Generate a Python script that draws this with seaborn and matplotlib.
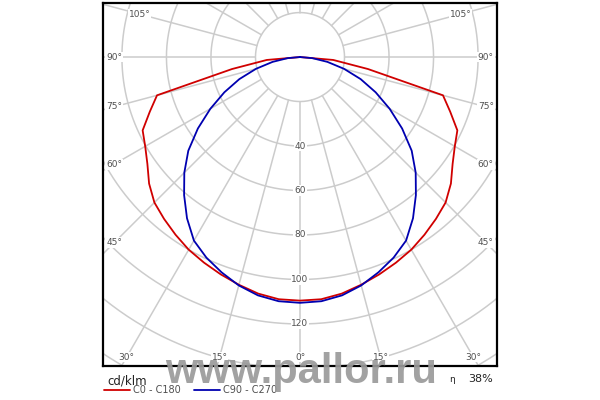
import numpy as np
import pandas as pd
import matplotlib
matplotlib.use("Agg")
import matplotlib.pyplot as plt
import seaborn as sns

# luminous intensity (cd/klm), every 5 deg from nadir
GAMMA = [0, 5, 10, 15, 20, 25, 30, 35, 40, 45, 50, 55, 60, 65, 70, 75, 80, 85, 90]
C0_C180 = [109.5, 109.3, 108.0, 106.0, 104.0, 102.0, 100.0, 97.5, 95.0, 92.5,
           88.5, 83.7, 80.3, 78.0, 71.8, 66.5, 31.0, 15.0, 0.0]
C90_C270 = [110.5, 110.2, 108.8, 106.3, 103.0, 99.5, 95.3, 88.5, 81.0, 73.5,
            65.5, 56.0, 46.5, 37.5, 29.0, 20.5, 12.5, 5.5, 0.0]
PLANES = ["C0 - C180", "C90 - C270"]
COLORS = ["#d00000", "#0000b0"]

RINGS = [20, 40, 60, 80, 100, 120, 140, 160, 180]
RING_LABELS = [40, 60, 80, 100, 120]
SPOKES = list(range(0, 360, 15))
ANGLE_LABELS = [0, 15, 30, 45, 60, 75, 90, 105]
UNIT = "cd/klm"
ETA = "38%"
WATERMARK = "www.pallor.ru"

# visible window in cd/klm units (polar centre at 0,0)
XMAX = 88.5
YTOP = 24.3
YBOT = -138.9
GRID = "#cccccc"
TXT = "#505050"


def build_frame():
    rows = []
    for plane, vals in zip(PLANES, [C0_C180, C90_C270]):
        # mirror: left half is C180 / C270, right half is C0 / C90
        angs = [-g for g in GAMMA[::-1]] + GAMMA[1:]
        rs = vals[::-1] + vals[1:]
        for i, (a, r) in enumerate(zip(angs, rs)):
            t = np.radians(a)
            rows.append(dict(plane=plane, order=i, x=r * np.sin(t), y=-r * np.cos(t)))
    return pd.DataFrame(rows)


def label_point(deg, side):
    # where a spoke meets a rectangle a little inside the frame
    t = np.radians(deg)
    dx, dy = side * np.sin(t), -np.cos(t)
    xin, ytop, ybot = XMAX - 5.0, YTOP - 5.0, YBOT + 4.0
    cands = []
    if abs(dx) > 1e-9:
        cands.append(xin / abs(dx))
    if dy < -1e-9:
        cands.append(ybot / dy)
    if dy > 1e-9:
        cands.append(ytop / dy)
    s = min(cands)
    return dx * s, dy * s


sns.set_style("white")
plt.rcParams["font.family"] = ["DejaVu Sans"]

fig = plt.figure(figsize=(6, 4), dpi=100)
ax = fig.add_axes([103 / 600, 34 / 400, 394 / 600, 363 / 400])
ax.set_xlim(-XMAX, XMAX)
ax.set_ylim(YBOT, YTOP)

# polar grid
phi = np.linspace(0, 2 * np.pi, 400)
for r in RINGS:
    ax.plot(r * np.cos(phi), r * np.sin(phi), color=GRID, lw=1.1, zorder=1)
for a in SPOKES:
    t = np.radians(a)
    ax.plot([20 * np.sin(t), 220 * np.sin(t)], [-20 * np.cos(t), -220 * np.cos(t)],
            color=GRID, lw=1.1, zorder=1)

df = build_frame()
sns.lineplot(data=df, x="x", y="y", hue="plane", palette=COLORS, sort=False,
             estimator=None, units="plane", lw=1.3, ax=ax, zorder=3)

for r in RING_LABELS:
    ax.text(0, -r, str(r), ha="center", va="center", fontsize=6.5, color=TXT,
            zorder=4, bbox=dict(facecolor="white", edgecolor="none", pad=0.6))

for a in ANGLE_LABELS:
    for side in ([1] if a == 0 else [-1, 1]):
        lx, ly = label_point(a, side)
        ax.text(lx, ly, "%d°" % a, ha="center", va="center", fontsize=6.5,
                color=TXT, zorder=4,
                bbox=dict(facecolor="white", edgecolor="none", pad=0.6))

ax.set_xticks([])
ax.set_yticks([])
ax.set_xlabel("")
ax.set_ylabel("")
for sp in ax.spines.values():
    sp.set_visible(True)
    sp.set_color("black")
    sp.set_linewidth(1.6)

sns.move_legend(ax, "lower left", bbox_to_anchor=(104 / 600, 0.012),
                bbox_transform=fig.transFigure, ncol=2, frameon=False,
                title=None, fontsize=7, handlelength=2.7, handletextpad=0.3,
                columnspacing=1.3, borderpad=0, borderaxespad=0,
                labelcolor=TXT)

fig.text(107 / 600, 1 - 381 / 400, UNIT, ha="left", va="center", fontsize=8.5,
         color="#222222")
fig.text(452 / 600, 1 - 379 / 400, "η", ha="center", va="center", fontsize=6.5,
         color="#222222")
fig.text(493 / 600, 1 - 379 / 400, ETA, ha="right", va="center", fontsize=8,
         color="#222222")

fig.text(301 / 600, 1 - 383 / 400, WATERMARK, ha="center", va="baseline",
         fontsize=30, fontweight="bold", family=["Liberation Sans", "DejaVu Sans"],
         color="#9a9a9a", alpha=0.92, zorder=10)

fig.savefig("out.png", dpi=100)
